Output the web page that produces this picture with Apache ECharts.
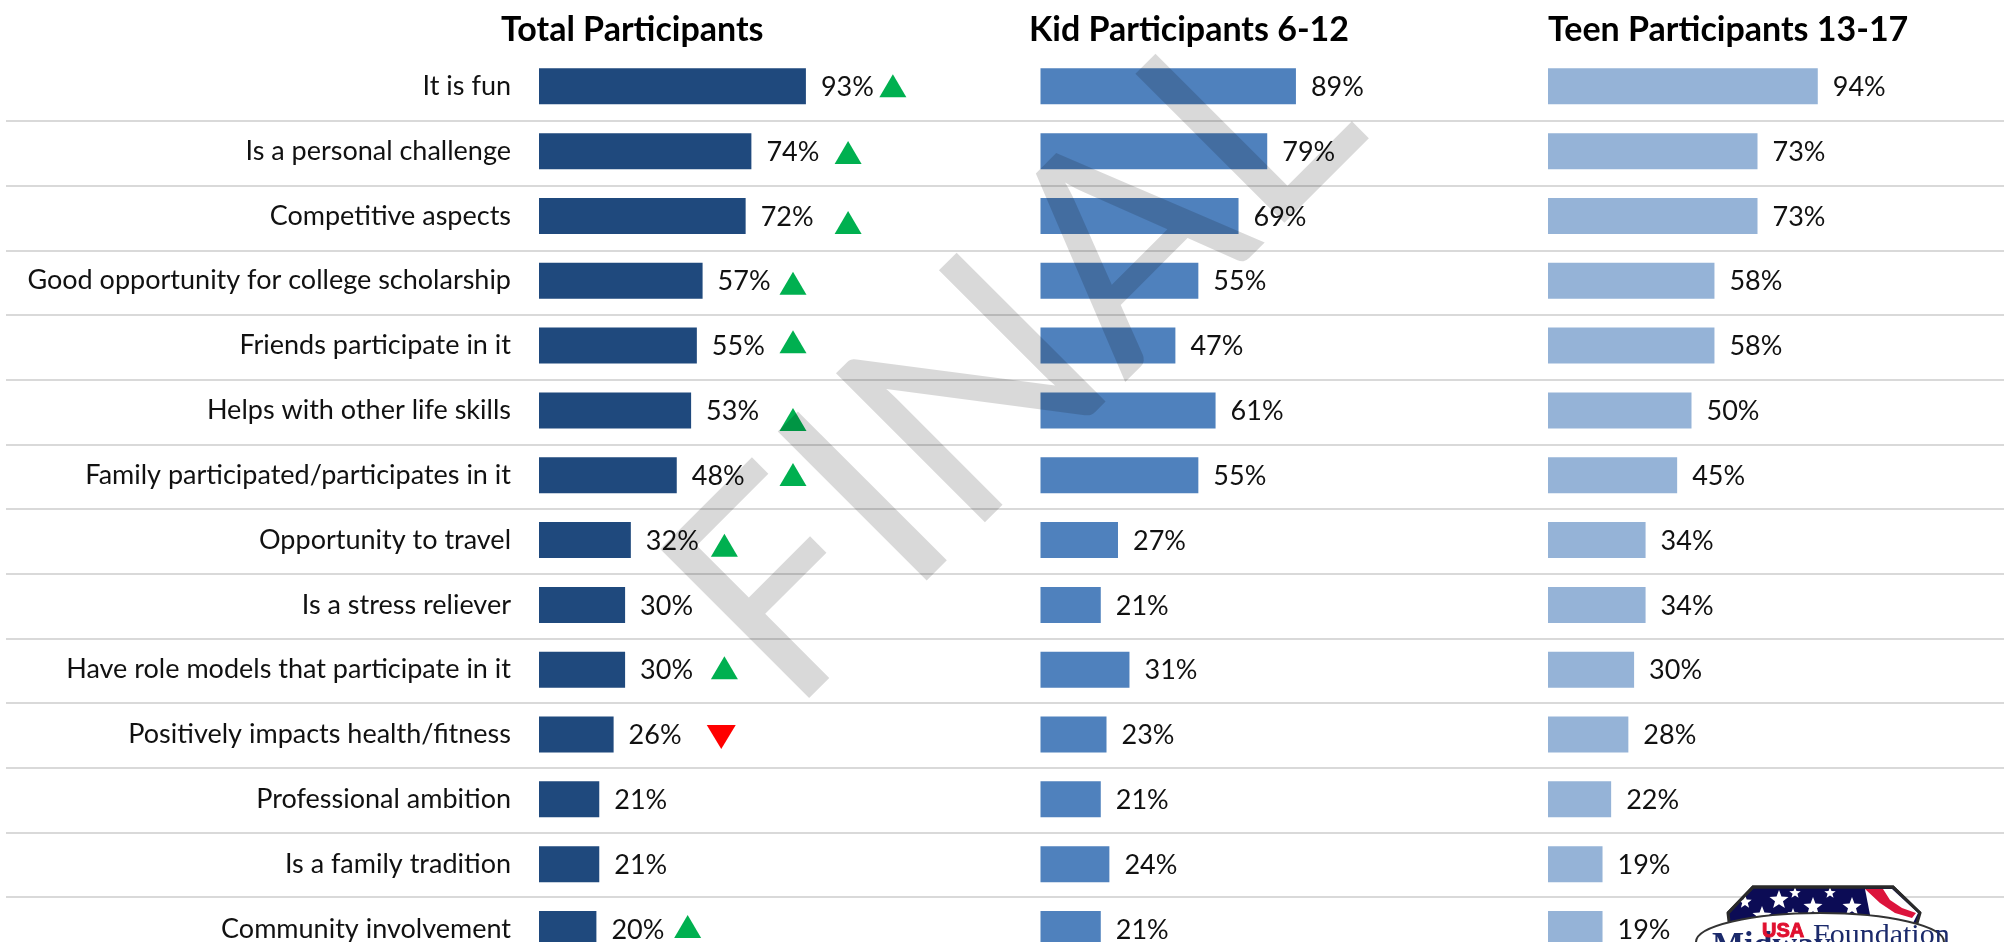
<!DOCTYPE html>
<html><head><meta charset="utf-8">
<style>html,body{margin:0;padding:0;background:#fff}#c{width:2004px;height:942px}</style>
<script src="https://cdn.jsdelivr.net/npm/echarts@6/dist/echarts.min.js"></script>
</head><body><div id="c"></div>
<script>
const categories = ["It is fun","Is a personal challenge","Competitive aspects","Good opportunity for college scholarship","Friends participate in it","Helps with other life skills","Family participated/participates in it","Opportunity to travel","Is a stress reliever","Have role models that participate in it","Positively impacts health/fitness","Professional ambition","Is a family tradition","Community involvement"];
const totalValues = [93,74,72,57,55,53,48,32,30,30,26,21,21,20];
const kidValues = [89,79,69,55,47,61,55,27,21,31,23,21,24,21];
const teenValues = [94,73,73,58,58,50,45,34,34,30,28,22,19,19];
const panelTitles = ["Total Participants","Kid Participants 6-12","Teen Participants 13-17"];
// significance markers, placed in the Total panel (x in % units, y in row units)
const upMarkers = [[123.3,-0.01],[107.7,1.02],[107.7,2.10],[88.5,3.04],[88.5,3.94],[88.5,5.14],[88.5,5.99],[64.6,7.08],[64.6,8.97],[51.8,12.96]];
const downMarkers = [[63.5,10.04]];

const FONT = 'Lato';
const LABEL_SIZE = 27;
const rows = categories.length;
const gridTop = 53.9, gridH = 907.5;
const pxPerPct = 2.87;
const panels = [
  {left:539, max:140, color:'#1F497D', values:totalValues},
  {left:1040.5, max:160, color:'#4F81BD', values:kidValues},
  {left:1548, max:100, color:'#95B3D7', values:teenValues}
];
const grids = panels.map(p=>({left:p.left, top:gridTop, width:p.max*pxPerPct, height:gridH, outerBoundsMode:'none'}));
grids.push({left:6, top:56.3, width:1998, height:64.67*rows, outerBoundsMode:'none'});
const xAxes = panels.map((p,i)=>({type:'value',gridIndex:i,min:0,max:p.max,show:false}));
xAxes.push({type:'value',gridIndex:3,min:0,max:1,show:false});
const yAxes = panels.map((p,i)=>({type:'category',gridIndex:i,inverse:true,data:categories,
  axisLine:{show:false},axisTick:{show:false},splitLine:{show:false},
  axisLabel:{show:i===0,margin:28,fontFamily:FONT,fontSize:LABEL_SIZE,color:'#111',align:'right'}}));
yAxes.push({type:'category',gridIndex:3,inverse:true,data:categories,
  axisLine:{show:false},axisTick:{show:false},axisLabel:{show:false},
  splitLine:{show:true,showMinLine:false,interval:0,lineStyle:{color:'#D9D9D9',width:2}}});
yAxes.push({type:'value',gridIndex:0,inverse:true,min:-0.5,max:13.5,show:false});

const series = panels.map((p,i)=>({type:'bar',xAxisIndex:i,yAxisIndex:i,data:p.values,barWidth:36,
  itemStyle:{color:p.color},
  label:{show:true,position:'right',distance:15,formatter:'{c}%',fontFamily:FONT,fontSize:LABEL_SIZE,color:'#111',offset:[0,1]}}));
series.push({type:'scatter',xAxisIndex:0,yAxisIndex:4,data:upMarkers,symbol:'triangle',symbolSize:[27,23],itemStyle:{color:'#00B050',opacity:1},clip:false});
series.push({type:'scatter',xAxisIndex:0,yAxisIndex:4,data:downMarkers,symbol:'triangle',symbolRotate:180,symbolSize:[29,24],itemStyle:{color:'#FF0000',opacity:1},clip:false});

function star(cx,cy,r){const pts=[];for(let k=0;k<10;k++){const a=-Math.PI/2+k*Math.PI/5,q=k%2?r*0.42:r;pts.push([cx+q*Math.cos(a),cy+q*Math.sin(a)]);}
  return {type:'polygon',z:60,shape:{points:pts},style:{fill:'#fff'}};}
const shield=[[1753,887],[1893,887],[1920,913],[1915,930],[1730,930],[1728,913]];
const logo=[
  {type:'polygon',z:60,shape:{points:shield},style:{fill:'#0C0C55',stroke:'#2A2A2A',lineWidth:3}},
  {type:'polygon',z:60,shape:{points:[[1865,889],[1892,889],[1918,913],[1912,925],[1872,925]]},style:{fill:'#fff'}},
  {type:'polygon',z:60,shape:{points:[[1865,889],[1883,889],[1890,900],[1902,908],[1916,913],[1912,918],[1895,913],[1880,903]]},style:{fill:'#DC143C'}},
  star(1779,900,10),star(1813,907,10),star(1852,907,10),star(1762,916,10),star(1745,902,7),star(1795,893,6),star(1830,893,6),star(1793,914,6),
  {type:'polyline',z:60,shape:{points:[[1728,913],[1753,887],[1893,887],[1920,913]]},style:{stroke:'#2A2A2A',lineWidth:3,fill:'none'}},
  {type:'ellipse',z:61,shape:{cx:1820,cy:942,rx:124,ry:29},style:{fill:'#fff',stroke:'#333',lineWidth:2}},
  {type:'text',z:62,x:1712,y:929,style:{text:'Midway',fontFamily:'Liberation Serif',fontWeight:'bold',fontSize:34,fill:'#1B2A6B'}},
  {type:'text',z:64,x:1762,y:921,style:{text:'USA',fontFamily:'Liberation Sans',fontWeight:'bold',fontSize:20,fill:'#E0102F',stroke:'#E0102F',lineWidth:1}},
  {type:'text',z:62,x:1813,y:921,style:{text:'Foundation',fontFamily:'Liberation Serif',fontSize:30,fill:'#1B2A6B'}}
];
const option={
  animation:false,
  backgroundColor:'#fff',
  title:panelTitles.map((t,i)=>({text:t,left:[496,1024,1543][i],top:8,textStyle:{fontFamily:FONT,fontWeight:'bold',fontSize:34,color:'#000'}})),
  grid:grids,xAxis:xAxes,yAxis:yAxes,series,
  graphic:logo.concat([{type:'text',z:100,x:827,y:754,rotation:Math.PI/4,
    style:{text:'FINAL',fontFamily:FONT,fontSize:294,fill:'rgba(0,0,0,0.15)',textVerticalAlign:'bottom'}}])
};
echarts.init(document.getElementById('c'),null,{renderer:'canvas'}).setOption(option);
</script></body></html>
